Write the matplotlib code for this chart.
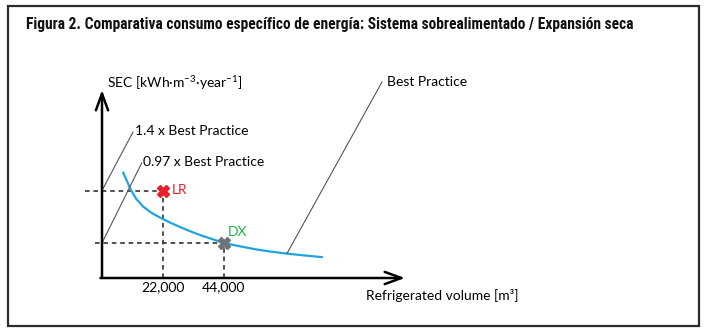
import matplotlib
matplotlib.use("Agg")
import matplotlib.pyplot as plt
from matplotlib.patches import Rectangle

W, H = 704, 331

# Best Practice curve (refrigerated volume m3 vs SEC, arbitrary units)
curve_volume = [7500, 8900, 10350, 12250, 14800, 17650, 20900, 24500, 28150,
                31750, 35350, 39650, 44000, 49750, 55200, 60600, 66700, 73200, 79700]
curve_sec = [106.3, 97.5, 88.5, 79.5, 71.5, 65.5, 60.5, 55.5, 51.0,
             46.8, 43.0, 39.0, 35.0, 31.7, 28.8, 26.5, 24.4, 22.5, 20.8]

# Plants compared
plant_names = ["LR", "DX"]
plant_volume = [22000, 44000]
plant_sec = [87.5, 35.0]
plant_colors = ["#e8202a", "#6d747c"]
plant_text_colors = ["#e8202a", "#22b14c"]

tick_values = [22000, 44000]
tick_labels = ["22,000", "44,000"]

X_MAX = 109300
Y_MAX = 188
PX = X_MAX / (405 - 102)  # m3 per pixel

FONT = ["Lato", "DejaVu Sans"]
FS = 10
plt.rcParams["font.family"] = FONT
plt.rcParams["mathtext.fontset"] = "custom"
plt.rcParams["mathtext.rm"] = "Lato"
plt.rcParams["mathtext.default"] = "regular"

fig = plt.figure(figsize=(W / 100, H / 100), dpi=100)
fig.patch.set_facecolor("white")

# frame and title
fig.add_artist(Rectangle((8 / W, 1 - 326 / H), (699 - 8) / W, (326 - 6) / H,
                         transform=fig.transFigure, fill=False,
                         edgecolor="#2b2b2b", lw=1.6))
title = fig.text(26 / W, 1 - 25 / H,
                 "Figura 2. Comparativa consumo específico de energía: Sistema sobrealimentado / Expansión seca",
                 family=["Liberation Sans Narrow", "Roboto Condensed", "Roboto", "DejaVu Sans"],
                 weight="bold", fontsize=10, va="center", ha="left", color="#111111")
# shrink the title to its line width
renderer = fig.canvas.get_renderer()
tw = title.get_window_extent(renderer).width
title.set_fontsize(10 * 610 / tw)

ax = fig.add_axes([102 / W, (H - 278) / H, (405 - 102) / W, (278 - 90) / H])
ax.set_xlim(0, X_MAX)
ax.set_ylim(0, Y_MAX)
ax.axis("off")

# axes drawn as open arrows
arrow = dict(arrowstyle="->,head_length=0.6,head_width=0.22", lw=1.8,
             color="black", mutation_scale=20, shrinkA=0, shrinkB=0)
ax.annotate("", xy=(0, 1), xytext=(0, 0), xycoords="axes fraction",
            arrowprops=arrow, annotation_clip=False)
ax.annotate("", xy=(1, 0), xytext=(-0.005, 0), xycoords="axes fraction",
            arrowprops=arrow, annotation_clip=False)

# dashed guides from each plant to the axes
dash = dict(ls=(0, (3, 2.5)), color="#222222", lw=1.1, clip_on=False)
for v, s in zip(plant_volume, plant_sec):
    ax.plot([v, v], [0, s], **dash)
ax.plot([-17 * PX, plant_volume[0]], [plant_sec[0]] * 2, **dash)
ax.plot([-7 * PX, plant_volume[1]], [plant_sec[1]] * 2, **dash)

ax.plot(curve_volume, curve_sec, color="#1ea5dd", lw=1.6, clip_on=False,
        solid_capstyle="butt", solid_joinstyle="round")

for v, s, c in zip(plant_volume, plant_sec, plant_colors):
    ax.plot(v, s, marker="X", ms=8, color=c, mec=c, clip_on=False, zorder=5)

ax.text(plant_volume[0] + 8.5 * PX, plant_sec[0], plant_names[0],
        color=plant_text_colors[0], fontsize=FS, va="center", ha="left")
ax.text(plant_volume[1] + 3.5 * PX, plant_sec[1] + 11.5, plant_names[1],
        color=plant_text_colors[1], fontsize=FS, va="center", ha="left")

# leader lines for the reference levels: (start, end of line, text position)
leaders = [
    ("Best Practice", (66700, 24.4), (280 * PX, 196), (285 * PX, 196)),
    ("1.4 x Best Practice", (0, plant_sec[0]), (31 * PX, 146), (33 * PX, 147)),
    ("0.97 x Best Practice", (0, plant_sec[1]), (39.7 * PX, 115), (41 * PX, 116)),
]
for label, p0, p1, pt in leaders:
    ax.plot([p0[0], p1[0]], [p0[1], p1[1]], color="#555555", lw=0.8,
            clip_on=False)
    ax.text(pt[0], pt[1], label, fontsize=FS, va="center", ha="left",
            clip_on=False)

for v, lab in zip(tick_values, tick_labels):
    ax.text(v, -9, lab, fontsize=FS, ha="center", va="center", clip_on=False)

ax.text(5 * PX, 195, "SEC [kWh·m$^{-3}$·year$^{-1}$]", fontsize=FS,
        ha="left", va="center", clip_on=False)
ax.text(264 * PX, -17, "Refrigerated volume [m³]", fontsize=FS,
        ha="left", va="center", clip_on=False)

fig.savefig("out.png", dpi=100, facecolor="white")
